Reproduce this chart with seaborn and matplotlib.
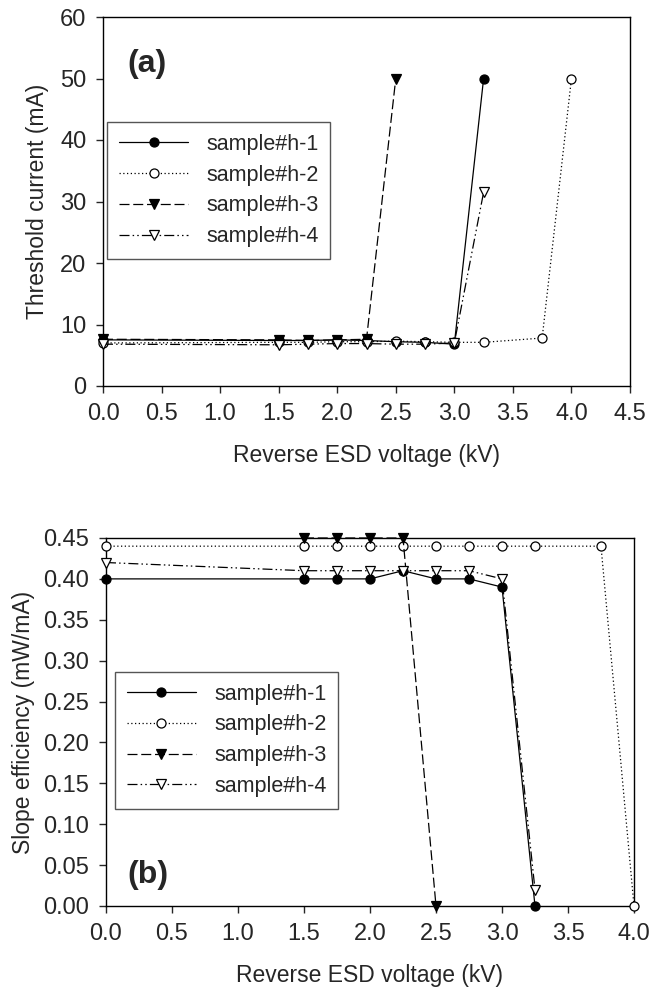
import matplotlib
matplotlib.use("Agg")
import matplotlib.pyplot as plt
import seaborn as sns
import pandas as pd
import numpy as np

# ---------------- data ----------------
labels = ["sample#h-1", "sample#h-2", "sample#h-3", "sample#h-4"]

# (a) threshold current
a_x1 = [0, 1.5, 1.75, 2.0, 2.25, 2.5, 2.75, 3.0, 3.25]
a_y1 = [7.5, 7.4, 7.4, 7.5, 7.4, 7.2, 7.1, 6.8, 50]
a_x2 = [0, 1.5, 1.75, 2.0, 2.25, 2.5, 2.75, 3.0, 3.25, 3.75, 4.0]
a_y2 = [7.0, 7.1, 7.1, 7.2, 7.2, 7.3, 7.2, 7.1, 7.1, 7.8, 50]
a_x3 = [0, 1.5, 1.75, 2.0, 2.25, 2.5]
a_y3 = [7.6, 7.5, 7.4, 7.5, 7.6, 50]
a_x4 = [0, 1.5, 1.75, 2.0, 2.25, 2.5, 2.75, 3.0, 3.25]
a_y4 = [6.8, 6.7, 6.8, 6.9, 6.9, 6.8, 6.8, 7.0, 31.5]

# (b) slope efficiency
b_x1 = [0, 1.5, 1.75, 2.0, 2.25, 2.5, 2.75, 3.0, 3.25]
b_y1 = [0.40, 0.40, 0.40, 0.40, 0.41, 0.40, 0.40, 0.39, 0.00]
b_x2 = [0, 1.5, 1.75, 2.0, 2.25, 2.5, 2.75, 3.0, 3.25, 3.75, 4.0]
b_y2 = [0.44, 0.44, 0.44, 0.44, 0.44, 0.44, 0.44, 0.44, 0.44, 0.44, 0.00]
b_x3 = [1.5, 1.75, 2.0, 2.25, 2.5]
b_y3 = [0.45, 0.45, 0.45, 0.45, 0.00]
b_x4 = [0, 1.5, 1.75, 2.0, 2.25, 2.5, 2.75, 3.0, 3.25]
b_y4 = [0.42, 0.41, 0.41, 0.41, 0.41, 0.41, 0.41, 0.40, 0.02]

a_xticks = [0.0, 0.5, 1.0, 1.5, 2.0, 2.5, 3.0, 3.5, 4.0, 4.5]
a_yticks = [0, 10, 20, 30, 40, 50, 60]
b_xticks = [0.0, 0.5, 1.0, 1.5, 2.0, 2.5, 3.0, 3.5, 4.0]
b_yticks = [0.00, 0.05, 0.10, 0.15, 0.20, 0.25, 0.30, 0.35, 0.40, 0.45]

# ---------------- style ----------------
sns.set_style("ticks")
plt.rcParams["font.family"] = ["Liberation Sans", "DejaVu Sans"]
plt.rcParams["axes.linewidth"] = 1.0

styles = [
    dict(marker="o", markerfacecolor="black", linestyle="-"),
    dict(marker="o", markerfacecolor="white", linestyle=(0, (1, 2))),
    dict(marker="v", markerfacecolor="black", linestyle=(0, (8, 3))),
    dict(marker="v", markerfacecolor="white", linestyle=(0, (8, 2.5, 1.2, 2.5, 1.2, 2.5))),
]

fig = plt.figure(figsize=(6.5, 9.89), dpi=100)
ax1 = fig.add_axes([103 / 650, 1 - 386 / 989, 527 / 650, 369 / 989])
ax2 = fig.add_axes([106 / 650, 1 - 906 / 989, 528 / 650, 368 / 989])


def draw(ax, xs, ys):
    for i, (x, y) in enumerate(zip(xs, ys)):
        df = pd.DataFrame({"x": x, "y": y})
        st = styles[i]
        sns.lineplot(
            data=df, x="x", y="y", ax=ax, sort=False, estimator=None,
            color="black", linewidth=0.9, marker=st["marker"],
            markerfacecolor=st["markerfacecolor"], markeredgecolor="black",
            markeredgewidth=0.9, markersize=7.5 if st["marker"] == "v" else 6.5,
            linestyle=st["linestyle"], label=labels[i], clip_on=False, zorder=3 + i,
        )


draw(ax1, [a_x1, a_x2, a_x3, a_x4], [a_y1, a_y2, a_y3, a_y4])
draw(ax2, [b_x1, b_x2, b_x3, b_x4], [b_y1, b_y2, b_y3, b_y4])

tick_fs = 17
for ax in (ax1, ax2):
    for s in ax.spines.values():
        s.set_visible(True)
        s.set_color("black")
        s.set_linewidth(1.0)
    ax.tick_params(direction="out", length=5, width=1, labelsize=tick_fs,
                   top=False, right=False, pad=7)
    ax.set_xlabel("Reverse ESD voltage (kV)", fontsize=16.5, labelpad=14)

ax1.set_xlim(0, 4.5)
ax1.set_ylim(0, 60)
ax1.set_xticks(a_xticks)
ax1.set_xticklabels([f"{v:.1f}" for v in a_xticks])
ax1.set_yticks(a_yticks)
ax1.set_yticklabels([str(v) for v in a_yticks])
ax1.set_ylabel("Threshold current (mA)", fontsize=16.5, labelpad=8)

ax2.set_xlim(0, 4.0)
ax2.set_ylim(0, 0.45)
ax2.set_xticks(b_xticks)
ax2.set_xticklabels([f"{v:.1f}" for v in b_xticks])
ax2.set_yticks(b_yticks)
ax2.set_yticklabels([f"{v:.2f}" for v in b_yticks])
ax2.set_ylabel("Slope efficiency (mW/mA)", fontsize=16.5, labelpad=6)

leg_kw = dict(loc="upper left", fontsize=15.5, frameon=True, fancybox=False,
              handlelength=3.2, handletextpad=0.85, labelspacing=0.45,
              borderpad=0.55, borderaxespad=0, numpoints=1)
l1 = ax1.legend(bbox_to_anchor=(0.008, 0.715), **leg_kw)
l2 = ax2.legend(bbox_to_anchor=(0.017, 0.636), **leg_kw)
for lg in (l1, l2):
    fr = lg.get_frame()
    fr.set_edgecolor("#555555")
    fr.set_linewidth(1.0)
    fr.set_alpha(1)

ax1.text(0.083, 0.873, "(a)", transform=ax1.transAxes, fontsize=23,
         fontweight="bold", ha="center", va="center")
ax2.text(0.0795, 0.084, "(b)", transform=ax2.transAxes, fontsize=23,
         fontweight="bold", ha="center", va="center")

fig.savefig("out.png", dpi=100)
